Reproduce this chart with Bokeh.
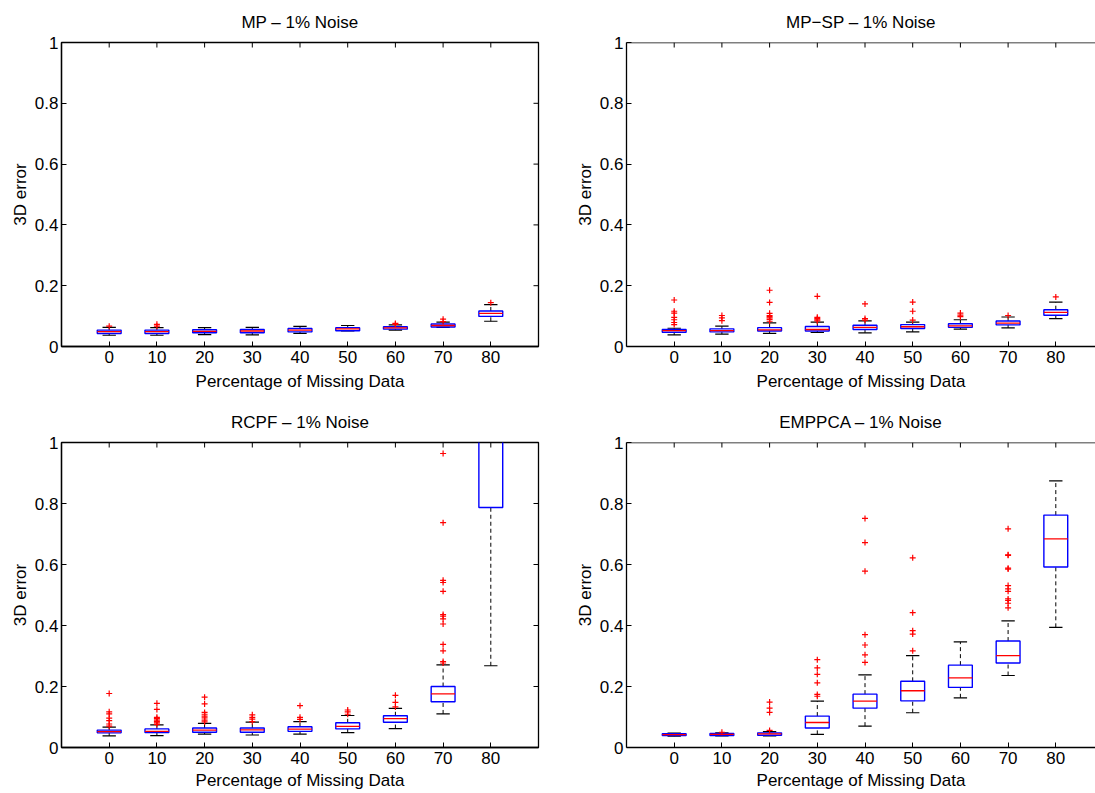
from bokeh.plotting import figure
from bokeh.layouts import row, column
from bokeh.models import Range1d, LinearAxis, FixedTicker, Span
from bokeh.embed import file_html
from bokeh.resources import INLINE

categories = ["0", "10", "20", "30", "40", "50", "60", "70", "80"]
y_ticks = [0, 0.2, 0.4, 0.6, 0.8, 1.0]
y_tick_labels = ["0", "0.2", "0.4", "0.6", "0.8", "1"]

# ---- MP ----
mp_q1 = [0.043, 0.043, 0.045, 0.045, 0.048, 0.052, 0.057, 0.064, 0.099]
mp_med = [0.049, 0.049, 0.050, 0.051, 0.054, 0.058, 0.061, 0.069, 0.109]
mp_q3 = [0.054, 0.054, 0.055, 0.056, 0.059, 0.062, 0.065, 0.074, 0.117]
mp_lo = [0.037, 0.037, 0.039, 0.038, 0.043, 0.051, 0.054, 0.063, 0.083]
mp_hi = [0.063, 0.062, 0.062, 0.063, 0.066, 0.069, 0.071, 0.080, 0.138]
mp_out = [[0.067], [0.067, 0.073], [], [], [], [], [0.073, 0.076], [0.082, 0.090], [0.144]]

# ---- MP-SP ----
mpsp_q1 = [0.047, 0.048, 0.051, 0.051, 0.056, 0.059, 0.063, 0.071, 0.103]
mpsp_med = [0.052, 0.052, 0.055, 0.056, 0.063, 0.065, 0.068, 0.077, 0.112]
mpsp_q3 = [0.056, 0.058, 0.062, 0.066, 0.070, 0.072, 0.075, 0.084, 0.121]
mpsp_lo = [0.038, 0.041, 0.043, 0.046, 0.045, 0.048, 0.057, 0.061, 0.092]
mpsp_hi = [0.060, 0.067, 0.078, 0.080, 0.084, 0.080, 0.088, 0.097, 0.146]
mpsp_out = [
    [0.153, 0.116, 0.110, 0.096, 0.088, 0.079, 0.072],
    [0.102, 0.094, 0.085],
    [0.185, 0.145, 0.109, 0.102, 0.098, 0.094, 0.089, 0.083],
    [0.165, 0.096, 0.092, 0.088, 0.084],
    [0.140, 0.092, 0.087],
    [0.146, 0.116, 0.087],
    [0.110, 0.103, 0.098],
    [0.102],
    [0.163],
]

# ---- RCPF ----
rcpf_q1 = [0.048, 0.049, 0.050, 0.050, 0.053, 0.061, 0.083, 0.150, 0.787]
rcpf_med = [0.052, 0.053, 0.057, 0.058, 0.060, 0.069, 0.095, 0.176, 1.050]
rcpf_q3 = [0.057, 0.061, 0.064, 0.064, 0.068, 0.081, 0.104, 0.200, 1.300]
rcpf_lo = [0.038, 0.039, 0.044, 0.041, 0.044, 0.049, 0.062, 0.110, 0.268]
rcpf_hi = [0.067, 0.074, 0.079, 0.083, 0.085, 0.105, 0.128, 0.271, 1.800]
rcpf_out = [
    [0.177, 0.117, 0.110, 0.096, 0.088, 0.077, 0.070],
    [0.145, 0.125, 0.099, 0.095, 0.090, 0.085, 0.081, 0.076],
    [0.165, 0.143, 0.115, 0.109, 0.103, 0.097, 0.090, 0.084],
    [0.107, 0.099, 0.093, 0.085],
    [0.137, 0.099, 0.092],
    [0.123, 0.117, 0.109],
    [0.171, 0.148, 0.133],
    [0.964, 0.737, 0.548, 0.541, 0.512, 0.436, 0.431, 0.422, 0.405,
     0.338, 0.317, 0.282, 0.277],
    [],
]

# ---- EMPPCA ----
em_q1 = [0.039, 0.039, 0.040, 0.064, 0.129, 0.153, 0.197, 0.277, 0.592]
em_med = [0.042, 0.043, 0.045, 0.082, 0.152, 0.186, 0.228, 0.301, 0.684]
em_q3 = [0.045, 0.046, 0.048, 0.103, 0.175, 0.217, 0.270, 0.349, 0.762]
em_lo = [0.037, 0.038, 0.038, 0.043, 0.070, 0.114, 0.163, 0.236, 0.394]
em_hi = [0.047, 0.048, 0.052, 0.152, 0.238, 0.301, 0.346, 0.415, 0.874]
em_out = [
    [],
    [0.050],
    [0.149, 0.129, 0.115, 0.056],
    [0.288, 0.261, 0.240, 0.212, 0.174, 0.168],
    [0.751, 0.672, 0.578, 0.370, 0.336, 0.304, 0.279],
    [0.622, 0.442, 0.383, 0.372, 0.317],
    [],
    [0.717, 0.632, 0.630, 0.588, 0.585, 0.531, 0.520, 0.512, 0.487,
     0.482, 0.473, 0.458],
    [],
]

FONT = "Liberation Sans"
FS = "17px"
BOX_W = 0.5
CAP_W = 0.28
TICK_PX = 5


def style_axis(ax):
    ax.axis_line_color = "black"
    ax.axis_line_width = 1.3
    ax.major_tick_line_color = "black"
    ax.major_tick_line_width = 1
    ax.major_tick_in = TICK_PX
    ax.major_tick_out = 0
    ax.minor_tick_line_color = None
    ax.major_label_text_font = FONT
    ax.major_label_text_font_size = FS
    ax.major_label_text_color = "black"
    ax.axis_label_text_font = FONT
    ax.axis_label_text_font_size = FS
    ax.axis_label_text_font_style = "normal"
    ax.axis_label_text_color = "black"


def make_panel(title, q1, med, q3, lo, hi, out, width, height,
               bl, br, bt, bb, frame_w, frame_h, x_end, full_box, xl_standoff):
    xs = [i + 1 for i in range(len(categories))]
    p = figure(width=width, height=height, output_backend="svg",
               toolbar_location=None, x_range=Range1d(0, x_end),
               y_range=Range1d(0, 1), x_axis_location=None,
               y_axis_location=None, min_border_left=bl,
               min_border_right=br, min_border_top=bt, min_border_bottom=bb)
    p.grid.visible = False
    p.background_fill_color = "white"
    p.border_fill_color = "white"
    if full_box:
        p.outline_line_color = "black"
        p.outline_line_width = 1.3
    else:
        p.outline_line_color = None
        p.add_layout(Span(location=1, dimension="width", line_color="black",
                          line_width=1.3))

    p.title.text = title
    p.title.text_font = FONT
    p.title.text_font_size = FS
    p.title.text_font_style = "normal"
    p.title.align = "center"
    p.title.text_color = "black"
    p.title.standoff = 21

    xtick = FixedTicker(ticks=xs)
    xover = {x: c for x, c in zip(xs, categories)}
    ytick = FixedTicker(ticks=y_ticks)
    yover = {t: l for t, l in zip(y_ticks, y_tick_labels)}

    bottom = LinearAxis(ticker=xtick, major_label_overrides=xover,
                        axis_label="Percentage of Missing Data")
    style_axis(bottom)
    bottom.major_label_standoff = 4
    bottom.axis_label_standoff = xl_standoff
    p.add_layout(bottom, "below")

    left = LinearAxis(ticker=ytick, major_label_overrides=yover,
                      axis_label="3D error")
    style_axis(left)
    left.major_label_standoff = 3
    left.axis_label_standoff = 2
    p.add_layout(left, "left")

    # inward ticks on the top edge (and right edge for the full box)
    ty = TICK_PX / frame_h
    p.segment(x0=xs, y0=[1] * len(xs), x1=xs, y1=[1 - ty] * len(xs),
              line_color="black", line_width=1)
    if full_box:
        tx = TICK_PX * x_end / frame_w
        p.segment(x0=[x_end] * len(y_ticks), y0=y_ticks,
                  x1=[x_end - tx] * len(y_ticks), y1=y_ticks,
                  line_color="black", line_width=1)

    # whiskers (dashed)
    p.segment(x0=xs, y0=q3, x1=xs, y1=hi, line_color="black",
              line_width=1, line_dash="4 3")
    p.segment(x0=xs, y0=lo, x1=xs, y1=q1, line_color="black",
              line_width=1, line_dash="4 3")
    # caps
    p.segment(x0=[x - CAP_W / 2 for x in xs], y0=hi,
              x1=[x + CAP_W / 2 for x in xs], y1=hi,
              line_color="black", line_width=1.2)
    p.segment(x0=[x - CAP_W / 2 for x in xs], y0=lo,
              x1=[x + CAP_W / 2 for x in xs], y1=lo,
              line_color="black", line_width=1.2)
    # boxes
    p.quad(left=[x - BOX_W / 2 for x in xs], right=[x + BOX_W / 2 for x in xs],
           bottom=q1, top=q3, fill_color=None, line_color="#0000ff",
           line_width=1.4)
    # medians
    p.segment(x0=[x - BOX_W / 2 for x in xs], y0=med,
              x1=[x + BOX_W / 2 for x in xs], y1=med,
              line_color="#ff0000", line_width=1.3)
    # outliers
    ox, oy = [], []
    for x, vals in zip(xs, out):
        for v in vals:
            ox.append(x)
            oy.append(v)
    p.scatter(ox, oy, marker="cross", size=6, line_color="#ff0000",
              line_width=1.2)
    return p


LW, RW = 570, 525
TH, BH = 400, 393
L_BL, L_BR, R_BL = 61, 32, 56
left_fw = LW - L_BL - L_BR
right_fw = RW - R_BL
right_x_end = right_fw / (left_fw / 10.0)

p1 = make_panel("MP \u2013 1% Noise", mp_q1, mp_med, mp_q3, mp_lo, mp_hi,
                mp_out, LW, TH, L_BL, L_BR, 42, 54, left_fw, 304, 10, True, 6)
p2 = make_panel("MP\u2212SP \u2013 1% Noise", mpsp_q1, mpsp_med, mpsp_q3,
                mpsp_lo, mpsp_hi, mpsp_out, RW, TH, R_BL, 0, 42, 54,
                right_fw, 304, right_x_end, False, 6)
p3 = make_panel("RCPF \u2013 1% Noise", rcpf_q1, rcpf_med, rcpf_q3, rcpf_lo,
                rcpf_hi, rcpf_out, LW, BH, L_BL, L_BR, 42, 46, left_fw, 305,
                10, True, 4)
p4 = make_panel("EMPPCA \u2013 1% Noise", em_q1, em_med, em_q3, em_lo, em_hi,
                em_out, RW, BH, R_BL, 0, 42, 46, right_fw, 305, right_x_end,
                False, 4)

layout = column(row(p1, p2), row(p3, p4))
open("out.html", "w").write(file_html(layout, INLINE))
